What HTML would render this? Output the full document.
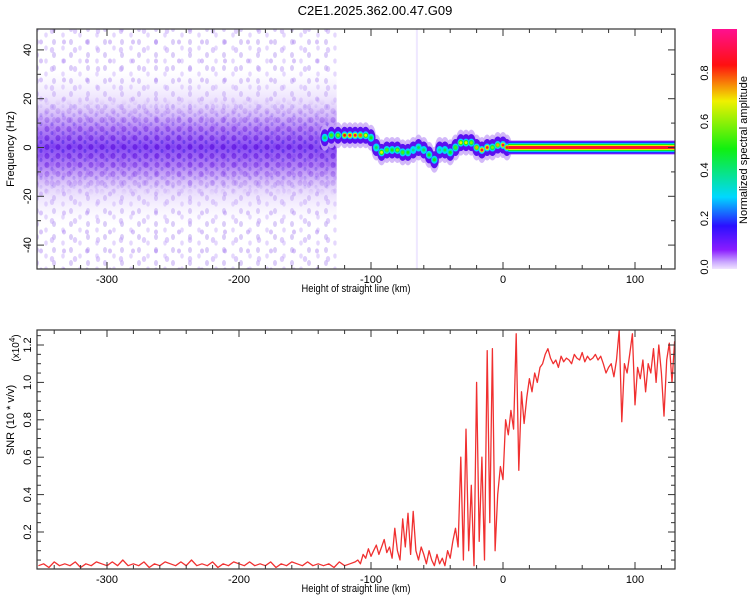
<!DOCTYPE html>
<html><head><meta charset="utf-8"><style>
html,body{margin:0;padding:0;background:#fff;}
svg{display:block;font-family:"Liberation Sans",sans-serif;}
</style></head><body>
<svg id="fig" width="750" height="600" viewBox="0 0 750 600">
<defs>
<linearGradient id="cbar" x1="0" y1="1" x2="0" y2="0">
<stop offset="0" stop-color="#f0e4ff"/><stop offset="0.03" stop-color="#c9a6ff"/>
<stop offset="0.08" stop-color="#8a1cff"/><stop offset="0.18" stop-color="#2a10ff"/>
<stop offset="0.3" stop-color="#00d8ff"/><stop offset="0.5" stop-color="#10f010"/>
<stop offset="0.7" stop-color="#f0f000"/><stop offset="0.85" stop-color="#ff1010"/>
<stop offset="1" stop-color="#ff1090"/></linearGradient>
<linearGradient id="cloud" x1="0" y1="0" x2="0" y2="1">
<stop offset="0" stop-color="#e8dcff" stop-opacity="0"/>
<stop offset="0.22" stop-color="#c8a8f8" stop-opacity="0.4"/>
<stop offset="0.38" stop-color="#8a40f0" stop-opacity="0.65"/>
<stop offset="0.5" stop-color="#6a20f0" stop-opacity="0.8"/>
<stop offset="0.62" stop-color="#8a40f0" stop-opacity="0.65"/>
<stop offset="0.78" stop-color="#c8a8f8" stop-opacity="0.4"/>
<stop offset="1" stop-color="#e8dcff" stop-opacity="0"/></linearGradient>
<linearGradient id="fade" x1="0" y1="0" x2="0" y2="1">
<stop offset="0" stop-color="#fff" stop-opacity="0"/><stop offset="0.5" stop-color="#fff" stop-opacity="1"/><stop offset="1" stop-color="#fff" stop-opacity="0"/></linearGradient>
<mask id="coreMask"><rect x="0" y="0" width="750" height="300" fill="url(#fade)"/></mask>
<pattern id="speck" width="17" height="13" patternUnits="userSpaceOnUse">
<ellipse cx="3" cy="3" rx="2" ry="3" fill="#b090f0" opacity="0.45"/>
<ellipse cx="12" cy="9" rx="1.8" ry="2.6" fill="#d0b8fa" opacity="0.55"/></pattern>
<pattern id="speck2" width="23" height="19" patternUnits="userSpaceOnUse">
<ellipse cx="6" cy="12" rx="2.2" ry="3" fill="#c0a0f8" opacity="0.5"/>
<ellipse cx="18" cy="4" rx="2" ry="2.5" fill="#a070f0" opacity="0.4"/></pattern>
<pattern id="speck3" width="11" height="9" patternUnits="userSpaceOnUse">
<ellipse cx="3" cy="3" rx="2.5" ry="3" fill="#5000d8" opacity="0.55"/>
<ellipse cx="8" cy="7" rx="1.5" ry="2" fill="#3010e0" opacity="0.45"/></pattern>
<clipPath id="c1"><rect x="37" y="29" width="638" height="240"/></clipPath>
<clipPath id="c2"><rect x="37" y="330" width="638" height="239"/></clipPath>
</defs>
<text x="375" y="15" font-size="13" text-anchor="middle">C2E1.2025.362.00.47.G09</text>
<g id="spec" clip-path="url(#c1)"></g>
<g id="ax1"></g>
<rect x="712" y="29" width="25" height="240" fill="url(#cbar)"/>
<g id="cbl"></g>
<text transform="translate(747,150) rotate(-90)" font-size="11" text-anchor="middle">Normalized spectral amplitude</text>
<g id="snr" clip-path="url(#c2)"></g>
<g id="ax2"></g>
</svg>
<script>
const NS='http://www.w3.org/2000/svg';
// ---- data ----
const xTicks=[-300,-200,-100,0,100];
const freqTicks=[-40,-20,0,20,40];
const snrTicks=[0.2,0.4,0.6,0.8,1.0,1.2];
const cbTicks=[0.0,0.2,0.4,0.6,0.8];
const ridgeH=[-135,-130,-125,-120,-116,-112,-108,-104,-100,-96,-92,-88,-84,-80,-76,-72,-68,-64,-60,-56,-52,-48,-44,-40,-36,-32,-28,-24,-20,-16,-12,-8,-4,0,3];
const ridgeF=[4,5,5,5,5,5,5,5,4,0,-2,-1,-1,-1,-2,-2,-1,0,-1,-3,-5,-1,-1,-2,0,2,2,2,0,-1,0,0,1,1,0];
const ridgeA=[0.45,0.55,0.6,0.85,0.9,0.9,0.8,0.7,0.5,0.45,0.7,0.55,0.5,0.6,0.55,0.5,0.4,0.45,0.45,0.5,0.5,0.4,0.45,0.5,0.55,0.7,0.7,0.6,0.75,0.9,0.9,0.6,0.75,0.9,0.85];
const bandStart=4, bandEnd=131, bandFreq=0;
const snrH=[-352,-348,-344,-340,-336,-332,-328,-324,-320,-316,-312,-308,-304,-300,-296,-292,-288,-284,-280,-276,-272,-268,-264,-260,-256,-252,-248,-244,-240,-236,-232,-228,-224,-220,-216,-212,-208,-204,-200,-196,-192,-188,-184,-180,-176,-172,-168,-164,-160,-156,-152,-148,-144,-140,-136,-132,-128,-124,-120,-116,-112,
-110,-108,-106,-104,-102,-100,-98,-96,-94,-92,-90,-88,-86,-84,-82,-80,-78,-76,-74,-72,-70,-68,-66,-64,-62,-60,-58,-56,-54,-52,-50,-48,-46,-44,-42,-40,-38,-36,-34,-32,-30,-28,-26,-24,-22,-20,-18,-16,-14,-12,-10,-8,-6,-4,-2,0,2,4,6,8,10,12,14,16,18,20,22,24,26,28,30,32,34,36,38,40,42,44,46,48,50,52,54,56,58,60,62,64,66,68,70,72,74,76,78,80,82,84,86,88,90,92,94,96,98,100,102,104,106,108,110,112,114,116,118,120,122,124,126,128,130];
const snrV=[0.02,0.03,0.01,0.04,0.02,0.03,0.02,0.04,0.01,0.03,0.02,0.04,0.03,0.02,0.04,0.02,0.05,0.02,0.03,0.02,0.04,0.01,0.03,0.02,0.04,0.03,0.02,0.04,0.02,0.05,0.02,0.03,0.02,0.04,0.01,0.03,0.02,0.04,0.03,0.02,0.04,0.02,0.03,0.02,0.04,0.01,0.03,0.02,0.04,0.03,0.02,0.04,0.02,0.03,0.02,0.03,0.01,0.04,0.02,0.03,0.04,
0.05,0.03,0.08,0.06,0.11,0.07,0.10,0.13,0.08,0.12,0.16,0.09,0.12,0.06,0.22,0.10,0.05,0.27,0.12,0.30,0.08,0.31,0.10,0.05,0.12,0.08,0.03,0.10,0.05,0.02,0.08,0.03,0.06,0.02,0.10,0.06,0.15,0.22,0.12,0.60,0.05,0.75,0.10,0.45,0.02,1.0,0.15,0.60,0.05,1.17,0.25,1.18,0.10,0.40,0.55,0.48,0.80,0.72,0.85,0.75,1.26,0.53,0.95,0.78,0.92,1.02,0.95,1.05,1.00,1.08,1.10,1.15,1.18,1.13,1.10,1.12,1.08,1.14,1.11,1.13,1.12,1.10,1.15,1.13,1.12,1.16,1.11,1.14,1.12,1.13,1.15,1.12,1.14,1.10,1.05,1.08,1.10,1.03,1.12,1.28,0.79,1.10,1.05,1.15,1.26,0.88,1.08,1.02,1.12,0.95,1.10,1.05,1.18,1.00,1.20,1.05,0.82,1.12,1.21,1.00,1.22];
// ---- scales ----
const X=h=>503+(h)*1.32;
const Y1=f=>147.5-f*2.44;
const Y2=v=>569.4-v*187;
const CB=v=>267-v*242.5;
function el(t,a,p){const e=document.createElementNS(NS,t);for(const k in a)e.setAttribute(k,a[k]);p.appendChild(e);return e;}
function cmap(v){const s=[[0,[240,228,255]],[0.08,[138,28,255]],[0.18,[42,16,255]],[0.3,[0,216,255]],[0.5,[16,240,16]],[0.7,[240,240,0]],[0.85,[255,16,16]],[1,[255,16,144]]];
for(let i=1;i<s.length;i++){if(v<=s[i][0]){const t=(v-s[i-1][0])/(s[i][0]-s[i-1][0]);const c=s[i-1][1].map((a,j)=>Math.round(a+(s[i][1][j]-a)*t));return `rgb(${c})`;}}return 'rgb(255,16,144)';}
const spec=document.getElementById('spec');
const xc=X(-126);
let r=el('rect',{x:37,y:29,width:xc-37,height:240,fill:'url(#speck)'},spec);


r=el('rect',{x:37,y:29,width:xc-37,height:240,fill:'url(#speck2)'},spec);


r=el('rect',{x:37,y:Y1(32),width:xc-37,height:Y1(-32)-Y1(32),fill:'url(#cloud)'},spec);


const coreG=el('g',{mask:'url(#coreMask)'},spec);


document.querySelector('#coreMask rect').setAttribute('y',Y1(20));
document.querySelector('#coreMask rect').setAttribute('height',Y1(-20)-Y1(20));
r=el('rect',{x:37,y:Y1(20),width:xc-37,height:Y1(-20)-Y1(20),fill:'url(#speck3)'},coreG);


r=el('rect',{x:X(-66),y:29,width:2,height:240,fill:'#e4d8ff',opacity:0.6},spec);


ridgeH.forEach((h,i)=>{
 const e=el('ellipse',{cx:X(h),cy:Y1(ridgeF[i]),rx:5,ry:13,fill:'#c8a8f8',opacity:0.8},spec);
 
 });
ridgeH.forEach((h,i)=>{
 const e=el('ellipse',{cx:X(h),cy:Y1(ridgeF[i]),rx:4.5,ry:8.5,fill:'#5a10f0'},spec);
 
 });
ridgeH.forEach((h,i)=>{const a=ridgeA[i];
 [[0.3,3.2,4],[a*0.75,2.4,2.6],[a,1.4,1.4]].forEach(([v,rx,ry])=>{
  const e=el('ellipse',{cx:X(h),cy:Y1(ridgeF[i]),rx:rx,ry:ry,fill:cmap(v)},spec);
  
  });});
[[2.8,0.1],[2.3,0.2],[1.8,0.32],[1.4,0.5],[1.0,0.7],[0.6,0.88]].forEach(([w,v])=>{
 const e=el('rect',{x:X(bandStart),y:Y1(bandFreq+w),width:X(bandEnd)-X(bandStart),height:Y1(bandFreq-w)-Y1(bandFreq+w),fill:cmap(v)},spec);
 
 });
function axes(g,top,bot,yt,Yf,ymin,ymax,ystep,minorStep,fmt){
 el('rect',{x:37,y:top,width:638,height:bot-top,fill:'none',stroke:'#333','stroke-width':1.2},g);
 for(let h=-340;h<=120;h+=20){const maj=h%100===0;const L=maj?7:4;
  el('line',{x1:X(h),x2:X(h),y1:bot,y2:bot-L,stroke:'#333'},g);el('line',{x1:X(h),x2:X(h),y1:top,y2:top+L,stroke:'#333'},g);}
 xTicks.forEach(h=>{const t=el('text',{x:X(h),y:bot+14,'font-size':11,'text-anchor':'middle'},g);t.textContent=h;
  
  });
 const xt=el('text',{x:356,y:bot+23,'font-size':11,'text-anchor':'middle',transform:`translate(356,${bot+23}) scale(0.85,1) translate(-356,${-(bot+23)})`},g);xt.textContent='Height of straight line (km)';
 
 
 for(let v=ymin;v<=ymax+1e-9;v+=minorStep){const y=Yf(v);if(y<top||y>bot)continue;const maj=Math.abs(v/ystep-Math.round(v/ystep))<1e-6;const L=maj?7:4;
  el('line',{x1:37,x2:37+L,y1:y,y2:y,stroke:'#333'},g);el('line',{x1:675,x2:675-L,y1:y,y2:y,stroke:'#333'},g);}
 yt.forEach(v=>{const y=Yf(v);const t=el('text',{transform:`translate(31,${y}) rotate(-90)`,'font-size':11,'text-anchor':'middle'},g);t.textContent=fmt(v);
  
  });
}
axes(document.getElementById('ax1'),29,269,freqTicks,Y1,-50,48,20,10,v=>v);
let t=el('text',{transform:'translate(14,149) rotate(-90)','font-size':11,'text-anchor':'middle'},document.getElementById('ax1'));t.textContent='Frequency (Hz)';


axes(document.getElementById('ax2'),330,569,snrTicks,Y2,0,1.3,0.2,0.05,v=>v.toFixed(1));
const ax2=document.getElementById('ax2');
t=el('text',{transform:'translate(14,420) rotate(-90)','font-size':11,'text-anchor':'middle'},ax2);t.textContent='SNR (10 * v/v)';


t=el('text',{transform:'translate(19,348) rotate(-90)','font-size':10,'text-anchor':'middle'},ax2);t.innerHTML='(x10<tspan dy="-4" font-size="8">4</tspan><tspan dy="4">)</tspan>';


const cbl=document.getElementById('cbl');
cbTicks.forEach(v=>{const y=CB(v);const tt=el('text',{transform:`translate(708,${y}) rotate(-90)`,'font-size':11,'text-anchor':'middle'},cbl);tt.textContent=v.toFixed(1);
 
 });
const n=Math.min(snrH.length,snrV.length);
const pts=[];for(let i=0;i<n;i++)pts.push(X(snrH[i]).toFixed(1)+','+Y2(snrV[i]).toFixed(1));
const pl=el('polyline',{points:pts.join(' '),fill:'none',stroke:'#f03030','stroke-width':1.3,'stroke-linejoin':'round'},document.getElementById('snr'));


</script>
</body></html>
